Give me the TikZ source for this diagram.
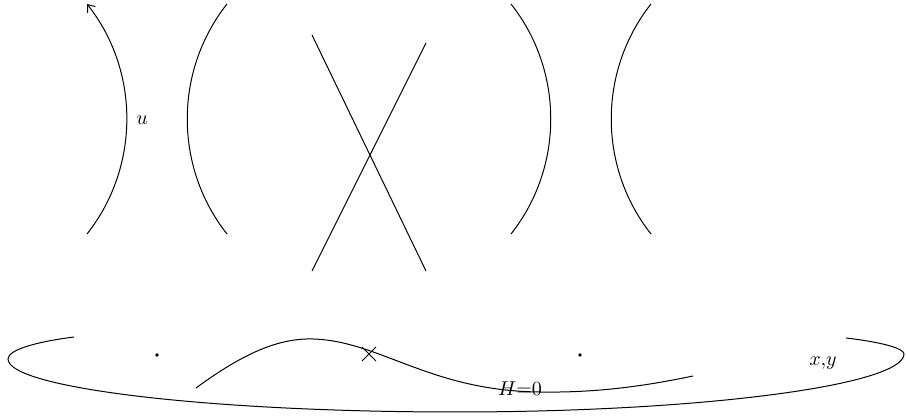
\documentclass[tikz,border=0pt]{standalone}
\usetikzlibrary{shapes.misc,arrows.meta}

\begin{document}
\begin{tikzpicture}[x=.5pt,y=-.5pt,
    branch/.style={line width=.5pt},
    pt/.style={circle,fill,inner sep=0pt,minimum size=1.8pt}]
  \useasboundingbox (0,0) rectangle (906,416);
  % upper row: level curves
  \draw[branch,-{Straight Barb[length=3.2pt,width=5pt]}] (87,234) .. controls (140,167) and (140,71) .. (87,4);
  \node (u) at (142,120) {$u$};
  \draw[branch] (227,4) .. controls (174,71) and (174,167) .. (227,234);
  \draw[branch] (312,35) -- (426,271);
  \draw[branch] (426,43) -- (312,271);
  \draw[branch] (511,4) .. controls (564,71) and (564,167) .. (511,234);
  \draw[branch] (651,4) .. controls (598,71) and (598,167) .. (651,234);
  % lower row: the base
  \draw[branch] (74,337) .. controls (35,342) and (8,350) .. (8,359)
    .. controls (8,388) and (209,412) .. (456,412)
    .. controls (703,412) and (904,385) .. (904,354)
    .. controls (904,348) and (880,342) .. (846,338);
  \node[pt] (p1) at (157,355) {};
  \node[pt] (p2) at (580,355) {};
  \draw[branch] (196,388) .. controls (245,352) and (280,338) .. (313,339)
    .. controls (380,341) and (430,391) .. (540,392)
    .. controls (600,393) and (650,385) .. (693,376);
  \node[cross out,draw,line width=.5pt,minimum size=6.5pt,inner sep=0pt] (c) at (369,354) {};
  \node (h) at (520,389) {$H{=}0$};
  \node (xy) at (823,363) {$x{,}y$};
\end{tikzpicture}
\end{document}
